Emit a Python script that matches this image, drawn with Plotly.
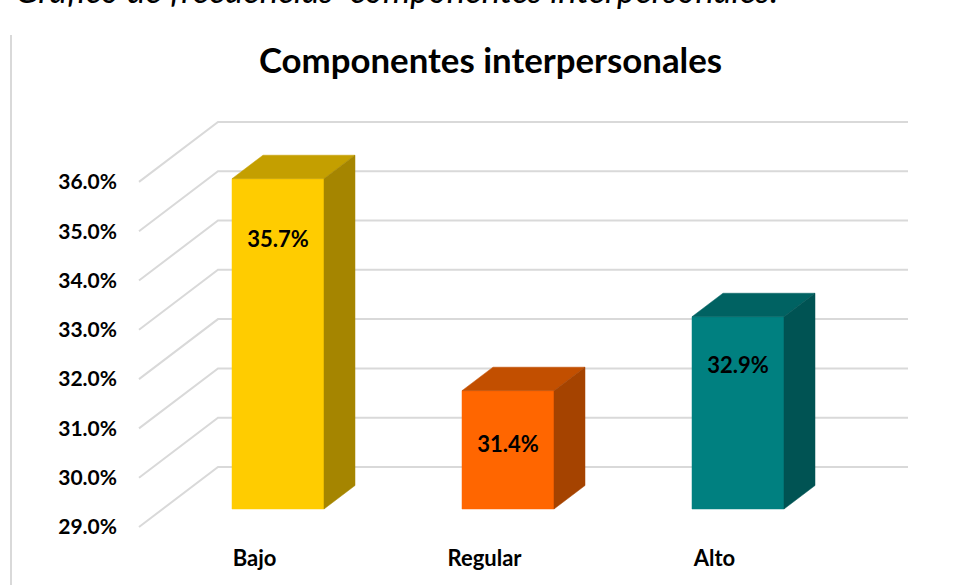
import plotly.graph_objects as go

categories = ["Bajo", "Regular", "Alto"]
values = [35.7, 31.4, 32.9]
value_labels = ["35.7%", "31.4%", "32.9%"]
tick_values = [29, 30, 31, 32, 33, 34, 35, 36]
tick_labels = ["29.0%", "30.0%", "31.0%", "32.0%", "33.0%", "34.0%", "35.0%", "36.0%"]
front_colors = ["#FFCC00", "#FF6600", "#008080"]
top_colors = ["#C49F00", "#C24F00", "#006262"]
side_colors = ["#A58500", "#A54300", "#005353"]

# Pixel geometry of the fake 3-D chart, as scale factors for the axes
W, H = 956, 585
PLOT_L, PLOT_B = 118, 543
CAT0, CAT_STEP = 254.5, 230.0
UNIT = 49.3
Y0 = 527.0

def xpx(p):
    return (p - CAT0) / CAT_STEP

def dy(p):
    return p / UNIT

def ypx(p):
    return 29 + (Y0 - p) / UNIT

fig = go.Figure()

# walls
wall_x0, wall_x1, wall_x2 = xpx(139), xpx(218), xpx(908)
wall_shift = dy(60)
for t in tick_values:
    fig.add_trace(go.Scatter(
        x=[wall_x0, wall_x1, wall_x2], y=[t, t + wall_shift, t + wall_shift],
        mode="lines", line=dict(color="#D9D9D9", width=2), hoverinfo="skip", showlegend=False))

# bars
bar_dx, half_w = 23.5 / CAT_STEP, 46 / CAT_STEP
bar_lift = dy(18)
depth_x, depth_y = 31 / CAT_STEP, dy(23.5)
label_drop = [62.5, 55.5, 50.5]
for i, v in enumerate(values):
    l, r = i + bar_dx - half_w, i + bar_dx + half_w
    b, t = 29 + bar_lift, v + bar_lift
    faces = [
        ([l, r, r, l, l], [b, b, t, t, b], front_colors[i]),
        ([l, r, r + depth_x, l + depth_x, l], [t, t, t + depth_y, t + depth_y, t], top_colors[i]),
        ([r, r + depth_x, r + depth_x, r, r], [b, b + depth_y, t + depth_y, t, b], side_colors[i]),
    ]
    for xs, ys, c in faces:
        fig.add_trace(go.Scatter(x=xs, y=ys, mode="lines", fill="toself", fillcolor=c,
                                 line=dict(color=c, width=0.5), hoverinfo="skip", showlegend=False))
    fig.add_trace(go.Scatter(
        x=[i + bar_dx], y=[t - dy(label_drop[i])], mode="text", text=[value_labels[i]],
        textposition="middle center",
        textfont=dict(family="Lato", size=22, color="#000000", weight="bold"),
        hoverinfo="skip", showlegend=False))

fig.update_layout(
    width=W, height=H, margin=dict(l=PLOT_L, r=0, t=0, b=H - PLOT_B),
    paper_bgcolor="#FFFFFF", plot_bgcolor="#FFFFFF", showlegend=False,
    title=dict(text="<b>Componentes interpersonales</b>", x=490.5 / W, xanchor="center",
               y=1 - 61 / H, yanchor="middle", font=dict(family="Lato", size=34.8, color="#000000")),
    xaxis=dict(range=[xpx(PLOT_L), xpx(W)], tickmode="array", tickvals=[0, 1, 2], ticktext=categories,
               showgrid=False, zeroline=False, showline=False, ticks="",
               tickfont=dict(family="Lato", size=22, color="#000000", weight="bold")),
    yaxis=dict(range=[ypx(PLOT_B), ypx(0)], tickmode="array", tickvals=tick_values, ticktext=tick_labels,
               showgrid=False, zeroline=False, showline=False, ticks="",
               tickfont=dict(family="Lato", size=21, color="#000000", weight="bold")),
    shapes=[
        dict(type="line", xref="paper", yref="paper", x0=-107 / (W - PLOT_L), x1=-107 / (W - PLOT_L),
             y0=(PLOT_B - 585) / (PLOT_B), y1=(PLOT_B - 35) / PLOT_B,
             line=dict(color="#D9D9D9", width=2)),
    ],
    annotations=[
        dict(text="<i>Gráfico de frecuencias  componentes interpersonales:</i>", xref="paper", yref="paper",
             x=(396 - PLOT_L) / (W - PLOT_L), y=(PLOT_B - 12) / PLOT_B, xanchor="center", yanchor="bottom",
             showarrow=False, font=dict(family="Lato", size=34.7, color="#000000")),
    ],
)

fig.write_html("out.html", config={"displayModeBar": False},
               post_script="document.body.style.margin='0';")
